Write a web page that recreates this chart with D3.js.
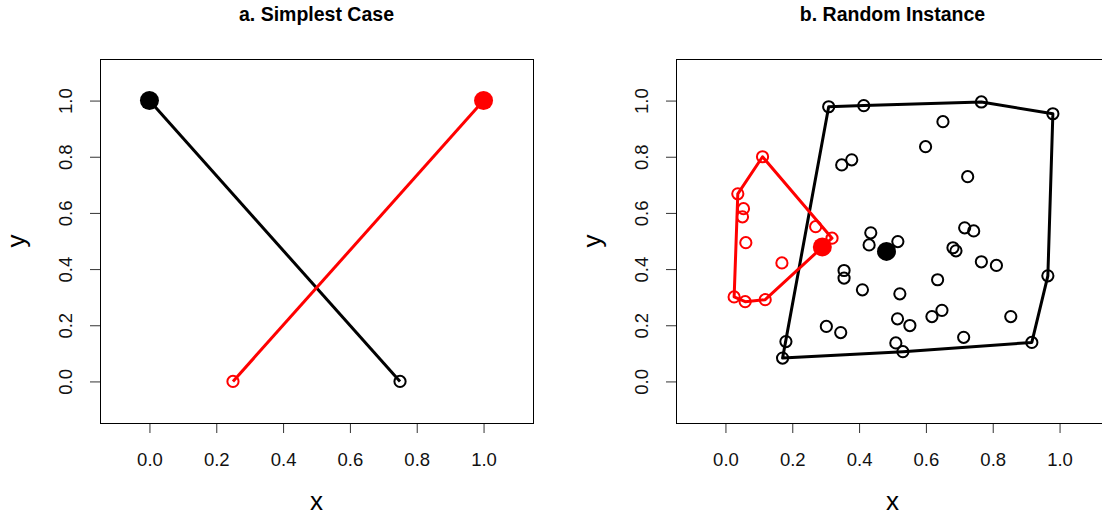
<!DOCTYPE html>
<html><head><meta charset="utf-8">
<script src="https://cdn.jsdelivr.net/npm/d3@7"></script>
<style>body{margin:0;background:#fff}svg{display:block;font-family:"Liberation Sans",Arial,sans-serif}</style>
</head><body><svg id="c" width="1102" height="517"></svg>
<script>
const titles = ["a. Simplest Case", "b. Random Instance"];
const xTicks = [0, 0.2, 0.4, 0.6, 0.8, 1.0];
const yTicks = [0, 0.2, 0.4, 0.6, 0.8, 1.0];
// panel a
const aBlackX = [0, 0.75], aBlackY = [1, 0];
const aRedX = [1, 0.25], aRedY = [1, 0];
// panel b
const bBlackX = [0.309,0.414,0.766,0.980,0.651,0.599,0.725,0.378,0.348,0.435,0.516,0.430,0.716,0.743,0.681,0.690,0.766,0.811,0.965,0.635,0.355,0.355,0.410,0.522,0.618,0.648,0.515,0.552,0.302,0.345,0.854,0.713,0.510,0.531,0.917,0.181,0.171];
const bBlackY = [0.978,0.982,0.995,0.953,0.925,0.836,0.729,0.789,0.771,0.529,0.498,0.486,0.547,0.536,0.476,0.465,0.426,0.413,0.376,0.362,0.395,0.368,0.326,0.312,0.231,0.253,0.223,0.199,0.196,0.174,0.231,0.157,0.137,0.106,0.139,0.142,0.083];
const bBlackCenter = [0.482, 0.463];
const bRedX = [0.111,0.037,0.054,0.051,0.061,0.270,0.319,0.169,0.026,0.059,0.119];
const bRedY = [0.800,0.668,0.615,0.586,0.494,0.551,0.510,0.422,0.301,0.284,0.291];
const bRedCenter = [0.290, 0.479];

const svg = d3.select("#c");
const dom = [-0.148, 1.148];
const W = 433, H = 364, T0 = 59;

function panel(left, title) {
  const g = svg.append("g");
  const x = d3.scaleLinear().domain(dom).range([left, left + W]);
  const y = d3.scaleLinear().domain(dom).range([T0 + H, T0]);
  g.append("text").attr("x", left + W / 2).attr("y", 21).attr("text-anchor", "middle")
    .attr("font-weight", "bold").attr("font-size", 19.5).text(title);
  const xa = g.append("g").attr("transform", `translate(0,${T0 + H})`)
    .call(d3.axisBottom(x).tickValues(xTicks).tickFormat(d3.format(".1f")).tickSize(10).tickPadding(0));
  xa.select(".domain").remove();
  xa.selectAll("line").attr("stroke", "#333");
  xa.selectAll("text").attr("font-size", 18.5).attr("fill", "#111").attr("dy", null).attr("y", 43)
    .attr("font-family", "Liberation Sans, Arial, sans-serif");
  const ya = g.append("g").attr("transform", `translate(${left},0)`)
    .call(d3.axisLeft(y).tickValues(yTicks).tickFormat(d3.format(".1f")).tickSize(10).tickPadding(0));
  ya.select(".domain").remove();
  ya.selectAll("line").attr("stroke", "#333");
  ya.selectAll("text").attr("font-size", 18.5).attr("fill", "#111").attr("dy", null).attr("x", null)
    .attr("text-anchor", "middle").attr("transform", `translate(${-28},0) rotate(-90)`)
    .attr("font-family", "Liberation Sans, Arial, sans-serif");
  g.append("rect").attr("x", left + 0.5).attr("y", T0 + 0.5).attr("width", W).attr("height", H)
    .attr("fill", "none").attr("stroke", "#000").attr("stroke-width", 1);
  g.append("text").attr("x", left + W / 2).attr("y", 510).attr("text-anchor", "middle")
    .attr("font-size", 26).text("x");
  g.append("text").attr("transform", `translate(${left - 75},${T0 + H / 2}) rotate(-90)`)
    .attr("text-anchor", "middle").attr("font-size", 26).text("y");
  return {g, x, y};
}

function openPts(p, xs, ys, col) {
  p.g.append("g").selectAll("circle").data(xs.map((d, i) => [d, ys[i]])).join("circle")
    .attr("cx", d => p.x(d[0])).attr("cy", d => p.y(d[1])).attr("r", 5.6)
    .attr("fill", "none").attr("stroke", col).attr("stroke-width", 2);
}
function filledPt(p, pt, col) {
  p.g.append("circle").attr("cx", p.x(pt[0])).attr("cy", p.y(pt[1])).attr("r", 9.5).attr("fill", col);
}
function path(p, pts, col, closed) {
  const line = d3.line().x(d => p.x(d[0])).y(d => p.y(d[1]));
  p.g.append("path").attr("d", line(pts) + (closed ? "Z" : "")).attr("fill", "none")
    .attr("stroke", col).attr("stroke-width", 3).attr("stroke-linejoin", "round");
}

const pa = panel(100, titles[0]);
path(pa, aBlackX.map((d, i) => [d, aBlackY[i]]), "#000", false);
openPts(pa, [aBlackX[1]], [aBlackY[1]], "#000");
filledPt(pa, [aBlackX[0], aBlackY[0]], "#000");
path(pa, aRedX.map((d, i) => [d, aRedY[i]]), "#ff0000", false);
openPts(pa, [aRedX[1]], [aRedY[1]], "#ff0000");
filledPt(pa, [aRedX[0], aRedY[0]], "#ff0000");

const pb = panel(676, titles[1]);
const bpts = bBlackX.map((d, i) => [d, bBlackY[i]]);
openPts(pb, bBlackX, bBlackY, "#000");
path(pb, d3.polygonHull(bpts), "#000", true);
filledPt(pb, bBlackCenter, "#000");
const rpts = bRedX.map((d, i) => [d, bRedY[i]]);
openPts(pb, bRedX, bRedY, "#ff0000");
path(pb, d3.polygonHull(rpts.concat([bRedCenter])), "#ff0000", true);
filledPt(pb, bRedCenter, "#ff0000");
</script></body></html>
